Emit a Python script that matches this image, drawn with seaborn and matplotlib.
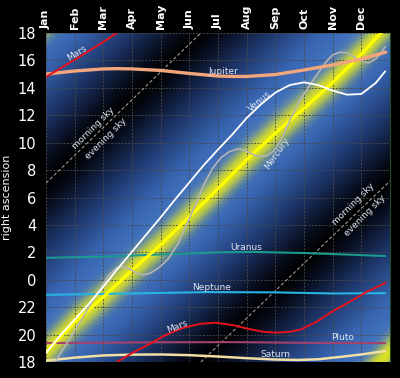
import matplotlib
matplotlib.use("Agg")
import matplotlib.pyplot as plt
import numpy as np
import pandas as pd
import seaborn as sns

# x: months since 1 Jan, y: right ascension in hours on an axis running
# 18h (top) ... 0h ... 18h (bottom); negative values mean 24 + value.
MONTHS = ["Jan", "Feb", "Mar", "Apr", "May", "Jun",
          "Jul", "Aug", "Sep", "Oct", "Nov", "Dec"]

SUN_T = [0, 1, 2, 3, 4, 5, 6, 7, 8, 9, 10, 11, 12]
SUN_RA = [-5.25, -3.1, -1.25, 0.7, 2.55, 4.6, 6.65, 8.75, 10.7, 12.5, 14.4, 16.45, 18.75]

# opposition line (sun + 12h), drawn as "morning sky / evening sky" divider
OPP_T = [0.0, 5.4, 12.0]
OPP_RA = [7.05, 18.0, 31.2]

MARS_T1 = [0.0, 1.0, 2.0, 2.47]
MARS_RA1 = [14.8, 16.05, 17.35, 18.0]
MARS_T2 = [2.47, 3.0, 3.6, 4.2, 4.8, 5.37, 5.9, 6.5, 7.1, 7.6, 8.0, 8.5, 8.9,
           9.45, 10.0, 10.6, 11.2, 11.85]
MARS_RA2 = [-6.0, -5.35, -4.7, -4.0, -3.5, -3.22, -3.13, -3.3, -3.6, -3.8, -3.86,
            -3.8, -3.62, -3.05, -2.3, -1.6, -0.87, -0.22]

JUPITER_T = [0, 1, 2, 2.5, 3, 4, 5, 6, 6.5, 7, 8, 9, 10, 11, 11.85]
JUPITER_RA = [15.0, 15.23, 15.38, 15.4, 15.38, 15.27, 15.05, 14.86, 14.83, 14.83,
              14.97, 15.3, 15.67, 16.1, 16.6]

VENUS_T = [0.0, 0.5, 1.0, 1.5, 2.0, 2.5, 3.0, 3.5, 4.0, 4.5, 5.0, 5.5, 6.0, 6.5,
           7.0, 7.5, 8.0, 8.5, 9.0, 9.5, 10.0, 10.5, 11.0, 11.5, 11.83]
VENUS_RA = [-5.35, -4.05, -2.9, -1.75, -0.5, 0.8, 2.05, 3.3, 4.55, 5.85, 7.1, 8.35,
            9.5, 10.6, 11.8, 12.8, 13.65, 14.2, 14.4, 14.2, 13.8, 13.5, 13.55,
            14.35, 15.2]

MERCURY_T = [0.31, 0.8, 1.3, 1.77, 2.2, 2.45, 2.65, 2.9, 3.15, 3.4, 3.65, 3.95,
             4.25, 4.6, 4.9, 5.2, 5.5, 5.8, 6.1, 6.4, 6.7, 6.95, 7.2, 7.45, 7.7,
             7.95, 8.2, 8.5, 8.86, 9.2, 9.45, 9.75, 10.0, 10.25, 10.5, 10.75,
             11.0, 11.25, 11.5, 11.7, 11.83]
MERCURY_RA = [-6.0, -4.4, -2.7, -1.0, 0.35, 0.85, 0.97, 0.8, 0.5, 0.35, 0.5, 0.9,
              1.5, 2.6, 4.0, 5.4, 6.9, 8.1, 8.9, 9.35, 9.55, 9.45, 9.15, 8.98,
              9.05, 9.4, 10.2, 11.6, 13.1, 14.2, 14.95, 15.85, 16.4, 16.6, 16.55,
              16.25, 15.95, 15.82, 16.1, 16.6, 17.0]

SATURN_T = [0, 1, 2, 3, 4, 5, 6, 7, 8, 8.8, 9.5, 10.3, 11, 11.83]
SATURN_RA = [-5.9, -5.68, -5.52, -5.46, -5.45, -5.5, -5.6, -5.72, -5.82, -5.85,
             -5.8, -5.62, -5.45, -5.2]

URANUS_T = [0, 2, 4, 6, 7.2, 9, 11, 11.83]
URANUS_RA = [1.6, 1.68, 1.85, 2.0, 2.03, 1.95, 1.8, 1.73]

NEPTUNE_T = [0, 3, 5.6, 8, 10, 11.83]
NEPTUNE_RA = [-1.1, -1.0, -0.9, -0.92, -1.0, -0.98]

PLUTO_T = [0, 4, 6.5, 9, 11.83]
PLUTO_RA = [-4.62, -4.56, -4.55, -4.6, -4.62]

NARROW = ["Liberation Sans Narrow", "DejaVu Sans"]
LABEL_COLOR = "#dfe5ef"

sns.set_style("dark", {"axes.facecolor": "black", "figure.facecolor": "black"})
plt.rcParams["font.family"] = NARROW

fig = plt.figure(figsize=(4.0, 3.78), dpi=100, facecolor="black")
ax = fig.add_axes([0.115, 0.0423, 0.86, 0.8704])

# ── background: blue near the sun, black at opposition, yellow glow ──
tt = np.linspace(0, 12, 500)
vv = np.linspace(-6, 18, 500)
T, V = np.meshgrid(tt, vv)
sun = np.interp(T, SUN_T, SUN_RA)
opp = np.interp(T, OPP_T, OPP_RA)
d_opp = np.abs((V - opp + 12) % 24 - 12) / 12.0
stops = [0.0, 0.14, 0.42, 0.72, 1.0]
cols = np.array([[0.0, 0.0, 0.0], [0.03, 0.05, 0.11], [0.12, 0.22, 0.43],
                 [0.22, 0.40, 0.70], [0.28, 0.47, 0.78]])
base = np.stack([np.interp(d_opp, stops, cols[:, i]) for i in range(3)], axis=-1)
dv = (V - sun + 12) % 24 - 12
glow = 0.9 * np.exp(-(np.abs(dv) / 1.15) ** 2.2)
yellow = np.array([0.92, 0.92, 0.08])
img = base * (1 - glow[..., None]) + yellow * glow[..., None]
ax.imshow(img, extent=[0, 12, -6, 18], origin="lower", aspect="auto",
          interpolation="bilinear", zorder=0)


def draw(t, ra, color, lw, seg=None, **kw):
    df = pd.DataFrame({"t": t, "ra": ra})
    df["seg"] = 0 if seg is None else seg
    sns.lineplot(data=df, x="t", y="ra", units="seg", estimator=None, sort=False,
                 color=color, lw=lw, ax=ax, legend=False, **kw)


# opposition divider (wraps at the top)
opp_vals = [v if v <= 18 else v - 24 for v in OPP_RA]
draw([OPP_T[0], OPP_T[1], OPP_T[1], OPP_T[2]],
     [opp_vals[0], 18.0, -6.0, opp_vals[2]], "#9a9a9a", 0.8,
     seg=[0, 0, 1, 1], linestyle=(0, (3, 2)))

draw(SATURN_T, SATURN_RA, "#f1dfa6", 1.8)
draw(PLUTO_T, PLUTO_RA, "#a3426c", 1.5)
draw(NEPTUNE_T, NEPTUNE_RA, "#27b4e3", 1.5)
draw(URANUS_T, URANUS_RA, "#1d9a8e", 1.5)
draw(SUN_T, SUN_RA, "#ffff00", 2.2)
draw(MERCURY_T, MERCURY_RA, "#b4b4b4", 1.2)
draw(VENUS_T, VENUS_RA, "#ffffff", 1.3)
draw(JUPITER_T, JUPITER_RA, "#f3a67c", 2.4)
draw(MARS_T1 + MARS_T2, MARS_RA1 + MARS_RA2, "#e8121c", 1.4,
     seg=[0] * len(MARS_T1) + [1] * len(MARS_T2))

# ── labels ──
labels = [
    ("Mars", 1.07, 16.56, 32), ("Jupiter", 6.19, 15.2, 0), ("Venus", 7.46, 13.0, 40),
    ("Mercury", 8.05, 9.22, 55), ("Uranus", 7.0, 2.37, 0), ("Neptune", 5.79, -0.53, 0),
    ("Mars", 4.56, -3.42, 22), ("Pluto", 10.35, -4.23, 0), ("Saturn", 7.99, -5.45, 0),
    ("morning sky", 1.64, 11.07, 45), ("evening sky", 2.09, 10.27, 45),
    ("morning sky", 10.71, 5.53, 45), ("evening sky", 11.13, 4.65, 45),
]
for text, x, y, rot in labels:
    ax.text(x, y, text, color=LABEL_COLOR, fontsize=6.5, rotation=rot,
            rotation_mode="anchor", ha="center", va="center", zorder=5)

# ── axes ──
ax.set_xlim(0, 12)
ax.set_ylim(-6, 18)
ax.xaxis.tick_top()
ax.set_xticks(range(12))
ax.set_xticklabels(MONTHS, rotation=90, color="white", fontsize=8,
                   fontweight="bold")
yt = list(range(-6, 19, 2))
ax.set_yticks(yt)
ax.set_yticklabels([str(v % 24) for v in yt], color="white", fontsize=10.5)
ax.tick_params(axis="both", length=0)
ax.tick_params(axis="x", pad=3)
ax.tick_params(axis="y", pad=7)
ax.set_xlabel("")
ax.set_ylabel("right ascension", color="white", fontsize=8, labelpad=4)
ax.grid(True, color="#4a4a4a", linestyle=(0, (2, 1.5)), linewidth=0.7, alpha=0.9)
ax.set_axisbelow(True)
for side in ["left", "top", "bottom"]:
    ax.spines[side].set_visible(False)
ax.spines["right"].set_color("#1f4a22")
ax.spines["right"].set_linewidth(0.8)

fig.savefig("out.png", dpi=100, facecolor="black")
